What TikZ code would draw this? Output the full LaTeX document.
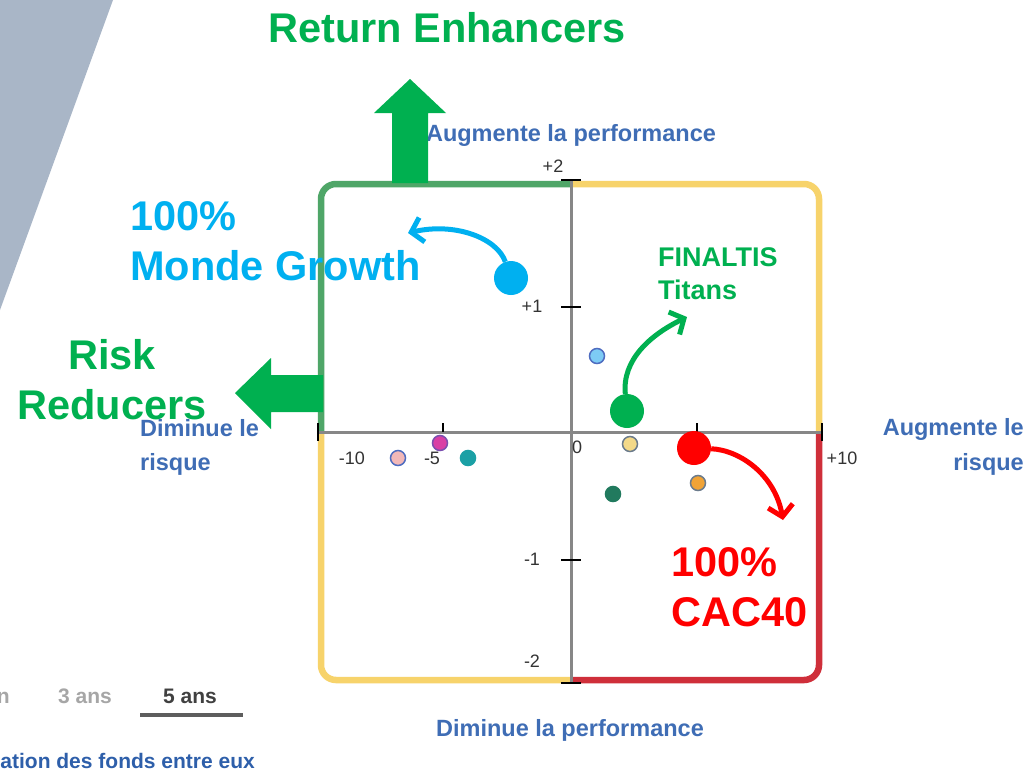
\documentclass[tikz,border=0pt]{standalone}
\usepackage{fontspec}
\setmainfont{Liberation Sans}
\usetikzlibrary{arrows.meta}
\definecolor{slate}{HTML}{A9B6C7}
\definecolor{gborder}{HTML}{4FA668}
\definecolor{yborder}{HTML}{F7D36B}
\definecolor{rborder}{HTML}{CF2F3A}
\definecolor{egreen}{HTML}{00B050}
\definecolor{eblue}{HTML}{00B0F0}
\definecolor{ered}{HTML}{FF0000}
\definecolor{axblue}{HTML}{3F6DB5}
\definecolor{axgray}{HTML}{878787}
\definecolor{ticktxt}{HTML}{333333}
\definecolor{tabgray}{HTML}{A6A6A6}
\definecolor{tabdark}{HTML}{404040}
\definecolor{linkblue}{HTML}{2E5FAA}
\definecolor{ptlblue}{HTML}{7DCBF5}
\definecolor{ptyellow}{HTML}{F3D989}
\definecolor{ptdgreen}{HTML}{217A5E}
\definecolor{ptorange}{HTML}{F0A336}
\definecolor{ptpink}{HTML}{F2B8B8}
\definecolor{ptmagenta}{HTML}{D93FA5}
\definecolor{ptteal}{HTML}{1BA0A5}
\definecolor{ringgray}{HTML}{6B7B8C}
\definecolor{ringblue}{HTML}{4E6CC0}
\definecolor{ringpurple}{HTML}{7A4FB0}
\newcommand{\fsz}[1]{\fontsize{#1}{#1}\selectfont}
\begin{document}
\begin{tikzpicture}[x=1pt,y=-1pt,
  bigtxt/.style={font=\fsz{41.5}\bfseries, inner sep=0pt},
  midtxt/.style={font=\fsz{27}\bfseries, inner sep=0pt},
  axtxt/.style={font=\fsz{23.5}\bfseries, text=axblue, inner sep=0pt},
  ticklbl/.style={font=\fsz{18}, text=ticktxt, inner sep=0pt},
  tabtxt/.style={font=\fsz{21}\bfseries, inner sep=0pt},
  qborder/.style={line width=6.5pt, rounded corners=15pt},
  tickmark/.style={line width=1.6pt, black},
  blockarrow/.style={fill=egreen, draw=none},
  dot/.style={circle, minimum size=15pt, inner sep=0pt, line width=1.5pt},
  bigdot/.style={circle, minimum size=34pt, inner sep=0pt, draw=none},
  curvearrow/.style={line width=5pt, -{Straight Barb[length=11pt,width=25pt]}}
]
\useasboundingbox (0,0) rectangle (1028,774);
\fill[white] (0,0) rectangle (1028,774);
% slate triangle
\fill[slate] (0,0) -- (113,0) -- (0,310) -- cycle;

% quadrant borders
\draw[qborder, gborder] (321,433) -- (321,184) -- (570,184);
\draw[qborder, yborder] (570,184) -- (819,184) -- (819,433);
\draw[qborder, yborder] (321,433) -- (321,680) -- (570,680);
\draw[qborder, rborder] (570,680) -- (819,680) -- (819,433);

% axes
\draw[axgray, line width=3pt] (318,432) -- (822,432);
\draw[axgray, line width=3pt] (571,180) -- (571,683);
% ticks
\draw[tickmark] (318,423) -- (318,441);
\draw[tickmark] (443,423) -- (443,432);
\draw[tickmark] (697,423) -- (697,432);
\draw[tickmark] (822,423) -- (822,441);
\draw[tickmark] (561,180) -- (581,180);
\draw[tickmark] (561,307) -- (581,307);
\draw[tickmark] (561,560) -- (581,560);
\draw[tickmark] (561,683) -- (581,683);

% tick labels
\node[ticklbl, anchor=base] (tm10) at (352,464) {-10};
\node[ticklbl, anchor=base] (tm5) at (432,464) {-5};
\node[ticklbl, anchor=base] (t0) at (577,453) {0};
\node[ticklbl, anchor=base] (tp10) at (842,464) {+10};
\node[ticklbl, anchor=base] (tp2) at (553,172) {+2};
\node[ticklbl, anchor=base] (tp1) at (532,312) {+1};
\node[ticklbl, anchor=base] (tn1) at (532,565) {-1};
\node[ticklbl, anchor=base] (tn2) at (532,667) {-2};

% axis titles
\node[axtxt, anchor=base] (perfup) at (571,141) {Augmente la performance};
\node[axtxt, anchor=base] (perfdown) at (570,736) {Diminue la performance};
\node[axtxt, anchor=base west] (riskdownA) at (140,436) {Diminue le};
\node[axtxt, anchor=base west] (riskdownB) at (140,470) {risque};
\node[axtxt, anchor=base east] (riskupA) at (1024,435) {Augmente le};
\node[axtxt, anchor=base east] (riskupB) at (1024,470) {risque};

% small data points
\node[dot, fill=ptlblue, draw=ringblue] (p1) at (597,356) {};
\node[dot, fill=ptyellow, draw=ringgray] (p2) at (630,444) {};
\node[dot, fill=ptdgreen, draw=ptdgreen] (p3) at (613,494) {};
\node[dot, fill=ptorange, draw=ringgray] (p4) at (698,483) {};
\node[dot, fill=ptpink, draw=ringblue] (p5) at (398,458) {};
\node[dot, fill=ptmagenta, draw=ringpurple] (p6) at (440,443) {};
\node[dot, fill=ptteal, draw=ptteal] (p7) at (468,458) {};

% block arrows
\fill[blockarrow] (392,183) -- (392,113) -- (374,113) -- (410,79) -- (446,113) -- (428,113) -- (428,183) -- cycle;
\fill[blockarrow] (323,375) -- (271,375) -- (271,358) -- (235,393) -- (271,429) -- (271,412) -- (323,412) -- cycle;

% big points
\node[bigdot, fill=eblue] (cblue) at (511,278) {};
\node[bigdot, fill=egreen] (cgreen) at (627,411) {};
\node[bigdot, fill=ered] (cred) at (694,448) {};
\coordinate (tipblue) at (408,233);
\coordinate (tipgreen) at (687,317);
\coordinate (tipred) at (783,520);
\draw[curvearrow, eblue] (cblue) .. controls (497,238) and (455,222) .. (tipblue);
\draw[curvearrow, egreen] (cgreen) .. controls (622,360) and (650,335) .. (tipgreen);
\draw[curvearrow, ered] (cred) .. controls (740,450) and (775,475) .. (tipred);

% big labels
\node[bigtxt, text=egreen, anchor=base] (ret) at (447,42) {Return Enhancers};
\node[bigtxt, text=eblue, anchor=base west] (mgA) at (130,230) {100\%};
\node[bigtxt, text=eblue, anchor=base west] (mgB) at (130,280) {Monde Growth};
\node[bigtxt, text=egreen, anchor=base] (rrA) at (112,369) {Risk};
\node[bigtxt, text=egreen, anchor=base] (rrB) at (112,419) {Reducers};
\node[midtxt, text=egreen, anchor=base west] (fiA) at (658,266) {FINALTIS};
\node[midtxt, text=egreen, anchor=base west] (fiB) at (658,299) {Titans};
\node[bigtxt, text=ered, anchor=base west] (cacA) at (671,576) {100\%};
\node[bigtxt, text=ered, anchor=base west] (cacB) at (671,626) {CAC40};

% bottom-left tabs
\node[tabtxt, text=tabgray, anchor=base east] (tab1) at (10,703) {n};
\node[tabtxt, text=tabgray, anchor=base] (tab3) at (85,703) {3 ans};
\node[tabtxt, text=tabdark, anchor=base] (tab5) at (190,703) {5 ans};
\draw[tabdark!85, line width=3.5pt] (140,715) -- (243,715);
\node[tabtxt, text=linkblue, anchor=base east] (note) at (255,768) {ation des fonds entre eux};
\end{tikzpicture}
\end{document}
